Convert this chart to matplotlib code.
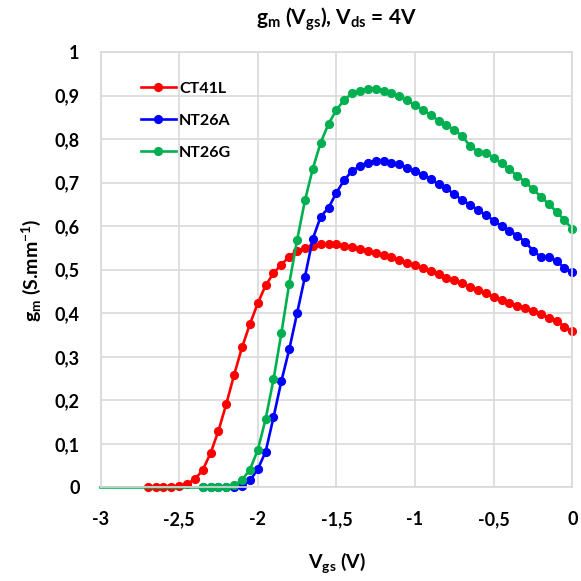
import numpy as np
import matplotlib
matplotlib.use("Agg")
import matplotlib.pyplot as plt
from matplotlib.ticker import FuncFormatter, MultipleLocator

plt.rcParams['font.family'] = ['Lato', 'DejaVu Sans']
plt.rcParams['mathtext.default'] = 'regular'

# Vgs sweeps (V)
vgs_red = np.round(np.arange(-2.70, 0.001, 0.05), 2)
vgs_dev = np.round(np.arange(-2.35, 0.001, 0.05), 2)

# gm (S/mm)
gm_ct41l = [0.000, 0.000, 0.000, 0.002, 0.003, 0.008, 0.019, 0.040, 0.079, 0.130,
            0.192, 0.259, 0.322, 0.375, 0.423, 0.464, 0.492, 0.512, 0.530, 0.544,
            0.549, 0.555, 0.558, 0.558, 0.558, 0.555, 0.552, 0.548, 0.544, 0.539,
            0.534, 0.529, 0.523, 0.516, 0.510, 0.503, 0.496, 0.490, 0.482, 0.476,
            0.469, 0.461, 0.453, 0.446, 0.438, 0.430, 0.424, 0.417, 0.411, 0.405,
            0.398, 0.390, 0.383, 0.369, 0.359]
gm_nt26a = [0.000, 0.000, 0.000, 0.000, 0.001, 0.003, 0.016, 0.042, 0.082, 0.161,
            0.244, 0.317, 0.400, 0.484, 0.571, 0.622, 0.642, 0.677, 0.706, 0.727,
            0.738, 0.746, 0.750, 0.750, 0.746, 0.742, 0.734, 0.726, 0.718, 0.708,
            0.696, 0.687, 0.673, 0.660, 0.649, 0.637, 0.626, 0.613, 0.600, 0.590,
            0.578, 0.564, 0.544, 0.529, 0.530, 0.519, 0.505, 0.494]
gm_nt26g = [0.000, 0.000, 0.000, 0.002, 0.005, 0.017, 0.041, 0.086, 0.157, 0.248,
            0.354, 0.468, 0.568, 0.659, 0.732, 0.792, 0.835, 0.867, 0.890, 0.905,
            0.911, 0.916, 0.916, 0.910, 0.905, 0.898, 0.889, 0.878, 0.867, 0.855,
            0.842, 0.832, 0.821, 0.807, 0.784, 0.771, 0.769, 0.757, 0.744, 0.731,
            0.715, 0.702, 0.685, 0.668, 0.651, 0.633, 0.614, 0.594]

# green trace starts with an unmarked point at -3 V
vgs_green = np.concatenate([[-3.0], vgs_dev])
gm_green = [0.0] + gm_nt26g

fig = plt.figure(figsize=(5.81, 5.81), dpi=100)
ax = fig.add_axes([0.173, 0.161, 0.812, 0.7495])

style = dict(lw=1.9, marker='o', ms=5.6, clip_on=False)
ax.plot(vgs_red, gm_ct41l, color='#FF0000', label='CT41L', **style)
ax.plot(vgs_dev, gm_nt26a, color='#0000FF', label='NT26A', **style)
ax.plot(vgs_green, gm_green, color='#00B050', label='NT26G',
        markevery=list(range(1, len(vgs_green))), **style)

ax.set_xlim(-3, 0)
ax.set_ylim(0, 1)
ax.xaxis.set_major_locator(MultipleLocator(0.5))
ax.yaxis.set_major_locator(MultipleLocator(0.1))
fmt = FuncFormatter(lambda v, p: ('%g' % round(v, 2)).replace('.', ','))
ax.xaxis.set_major_formatter(fmt)
ax.yaxis.set_major_formatter(fmt)
ax.grid(True, color='#D9D9D9', lw=1.2)
ax.set_axisbelow(True)
for s in ax.spines.values():
    s.set_color('#D9D9D9')
    s.set_linewidth(1.2)
ax.tick_params(axis='x', length=0, labelsize=13, pad=17, colors='black')
ax.tick_params(axis='y', length=0, labelsize=13, pad=15, colors='black')
for lab in ax.get_xticklabels() + ax.get_yticklabels():
    lab.set_fontweight('bold')

ax.set_title('g$_{m}$ (V$_{gs}$), V$_{ds}$ = 4V', fontsize=15, fontweight='bold', pad=20)
ax.set_xlabel('V$_{gs}$ (V)', fontsize=14, fontweight='bold', labelpad=16)
ax.set_ylabel('g$_{m}$ (S.mm$^{-1}$)', fontsize=14, fontweight='bold', labelpad=8)

leg = ax.legend(loc='upper left', bbox_to_anchor=(0.055, 0.965), frameon=False,
                prop={'size': 11.5, 'weight': 'bold'}, handlelength=2.2,
                handletextpad=0.2, labelspacing=1.12)

fig.savefig('out.png', dpi=100)
